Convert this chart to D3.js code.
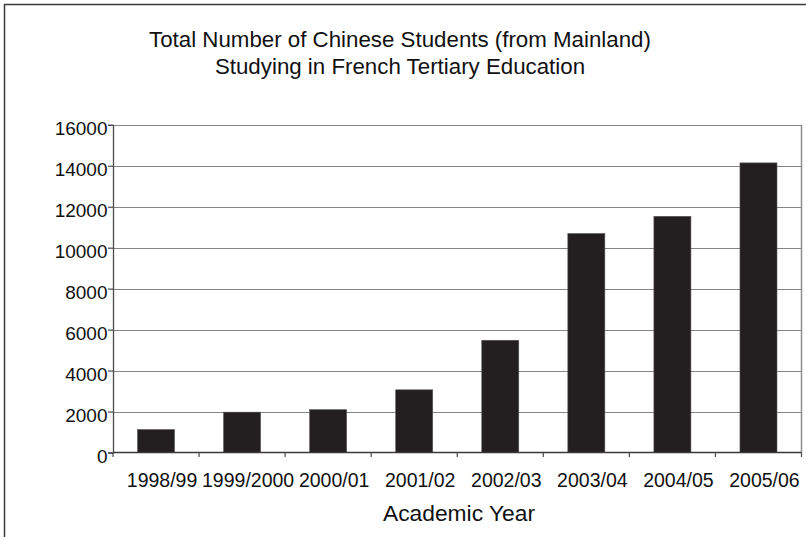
<!DOCTYPE html>
<html>
<head>
<meta charset="utf-8">
<script src="https://cdn.jsdelivr.net/npm/d3@7"></script>
<style>
  html, body { margin: 0; padding: 0; background: #fff; }
  svg { display: block; }
  text { font-family: "Liberation Sans", Arial, Helvetica, sans-serif; fill: #111; }
</style>
</head>
<body>
<svg id="chart" width="806" height="537"></svg>
<script>
// Academic years and number of mainland Chinese students in French tertiary education
const years = ["1998/99", "1999/2000", "2000/01", "2001/02", "2002/03", "2003/04", "2004/05", "2005/06"];
const students = [1120, 1970, 2090, 3060, 5480, 10690, 11530, 14140];
const yTicks = [0, 2000, 4000, 6000, 8000, 10000, 12000, 14000, 16000];
const titleLines = ["Total Number of Chinese Students (from Mainland)", "Studying in French Tertiary Education"];
const xTitle = "Academic Year";

const svg = d3.select("#chart");
const plot = { left: 113, right: 801.5, top: 124.8, bottom: 452.5 };

// outer frame of the chart area
svg.append("rect")
  .attr("x", 4.5).attr("y", 4.5)
  .attr("width", 900).attr("height", 900)
  .attr("fill", "none").attr("stroke", "#3a3a3a").attr("stroke-width", 1.5);

const x = d3.scaleBand()
  .domain(years)
  .range([plot.left, plot.right])
  .paddingInner(0.57)
  .paddingOuter(0.285);

const y = d3.scaleLinear()
  .domain([0, 16000])
  .range([plot.bottom, plot.top]);

// horizontal gridlines
svg.append("g")
  .selectAll("line")
  .data(yTicks.filter(d => d > 0))
  .join("line")
  .attr("x1", plot.left).attr("x2", plot.right)
  .attr("y1", d => Math.round(y(d)) + 0.5).attr("y2", d => Math.round(y(d)) + 0.5)
  .attr("stroke", "#858585").attr("stroke-width", 1.2);

// right edge of the plot area
svg.append("line")
  .attr("x1", plot.right).attr("x2", plot.right)
  .attr("y1", y(16000)).attr("y2", y(0))
  .attr("stroke", "#8c8c8c").attr("stroke-width", 1.5);

// bars
svg.append("g")
  .selectAll("rect")
  .data(years.map((yr, i) => ({ yr, v: students[i] })))
  .join("rect")
  .attr("x", d => x(d.yr))
  .attr("width", x.bandwidth())
  .attr("y", d => y(d.v))
  .attr("height", d => y(0) - y(d.v))
  .attr("fill", "#231f20")
  .attr("stroke", "#555").attr("stroke-width", 0.6);

// y axis
const yAxis = d3.axisLeft(y).tickValues(yTicks).tickSize(5).tickPadding(0.5).tickFormat(d3.format("d"));
const gy = svg.append("g").attr("transform", `translate(${plot.left},0)`).call(yAxis);
gy.select(".domain").attr("stroke", "#4a4a4a").attr("stroke-width", 1.3);
gy.selectAll(".tick line").attr("stroke", "#4a4a4a").attr("stroke-width", 1.2);
gy.selectAll(".tick text")
  .attr("font-size", 19).attr("fill", "#111")
  .attr("dy", "0.5em")
  .style("font-family", "'Liberation Sans', Arial, sans-serif");

// x axis baseline
svg.append("line")
  .attr("x1", plot.left).attr("x2", plot.right)
  .attr("y1", y(0)).attr("y2", y(0))
  .attr("stroke", "#3a3a3a").attr("stroke-width", 1.4);

// category separators on the x axis
const step = x.step();
const sep = d3.range(years.length + 1).map(i => plot.left + i * step);
svg.append("g")
  .selectAll("line")
  .data(sep)
  .join("line")
  .attr("x1", d => d).attr("x2", d => d)
  .attr("y1", y(0)).attr("y2", y(0) + 4.5)
  .attr("stroke", "#4a4a4a").attr("stroke-width", 1.2);

// category labels
svg.append("g")
  .selectAll("text")
  .data(years)
  .join("text")
  .attr("x", d => x(d) + x.bandwidth() / 2 + 6)
  .attr("y", 486.5)
  .attr("text-anchor", "middle")
  .attr("font-size", 19.5)
  .text(d => d);

// axis title
svg.append("text")
  .attr("x", 459).attr("y", 521)
  .attr("text-anchor", "middle")
  .attr("font-size", 22.8)
  .text(xTitle);

// chart title
svg.append("g")
  .selectAll("text")
  .data(titleLines)
  .join("text")
  .attr("x", 400)
  .attr("y", (d, i) => 46.5 + i * 27.7)
  .attr("text-anchor", "middle")
  .attr("font-size", 22.3)
  .text(d => d);
</script>
</body>
</html>
